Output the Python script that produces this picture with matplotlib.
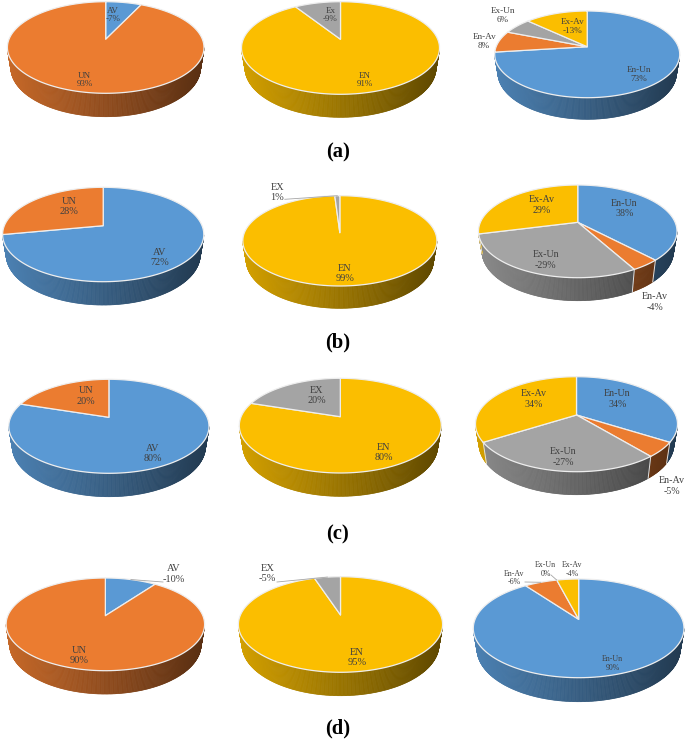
import numpy as np
import matplotlib
matplotlib.use("Agg")
import matplotlib.pyplot as plt
from matplotlib.collections import PolyCollection

BLUE = "#5A99D4"
ORANGE = "#EB7C30"
GRAY = "#A4A4A4"
YELLOW = "#FBBE00"

# values, read clockwise from 12 o'clock
a1_values = [7, 93]
a1_labels = ["AV\n-7%", "UN\n93%"]
a2_values = [91, 9]
a2_labels = ["EN\n91%", "Ex\n-9%"]
a3_values = [73, 8, 6, 13]
a3_labels = ["En-Un\n73%", "En-Av\n8%", "Ex-Un\n6%", "Ex-Av\n-13%"]

b1_values = [72, 28]
b1_labels = ["AV\n72%", "UN\n28%"]
b2_values = [99, 1]
b2_labels = ["EN\n99%", "EX\n1%"]
b3_values = [38, 4, 29, 29]
b3_labels = ["En-Un\n38%", "En-Av\n-4%", "Ex-Un\n-29%", "Ex-Av\n29%"]

c1_values = [80, 20]
c1_labels = ["AV\n80%", "UN\n20%"]
c2_values = [80, 20]
c2_labels = ["EN\n80%", "EX\n20%"]
c3_values = [34, 5, 27, 34]
c3_labels = ["En-Un\n34%", "En-Av\n-5%", "Ex-Un\n-27%", "Ex-Av\n34%"]

d1_values = [10, 90]
d1_labels = ["AV\n-10%", "UN\n90%"]
d2_values = [95, 5]
d2_labels = ["EN\n95%", "EX\n-5%"]
d3_values = [90, 6, 0, 4]
d3_labels = ["En-Un\n90%", "En-Av\n-6%", "Ex-Un\n0%", "Ex-Av\n-4%"]

panel_names = ["(a)", "(b)", "(c)", "(d)"]
panel_pos = [(338, 152), (338, 342), (338, 534), (338, 728)]


def make_pie(values, labels, colors, box, label_pos, size, leaders=()):
    return dict(values=values, labels=labels, colors=colors, box=box,
                label_pos=label_pos, size=size, leaders=leaders)


# box = left, right, top, bottom of the top face, centre y, bottom of the wall (pixels)
pies = [
    make_pie(a1_values, a1_labels, [BLUE, ORANGE], (7.4, 204, 1.7, 93.3, 39.3, 116.7),
             [(113, 15), (84.6, 80)], 6.5),
    make_pie(a2_values, a2_labels, [YELLOW, GRAY], (241.5, 439.5, 1.7, 94.3, 39.3, 117.3),
             [(364.6, 80), (330.4, 15)], 6.5),
    make_pie(a3_values, a3_labels, [BLUE, ORANGE, GRAY, YELLOW], (494.7, 679.7, 11, 97.7, 46.7, 119.3),
             [(639.3, 74.3), (484.2, 41.7), (502.6, 15.7), (572.7, 26.7)], 6.6),
    make_pie(b1_values, b1_labels, [BLUE, ORANGE], (2.6, 203.8, 187.3, 281.7, 225.7, 305),
             [(160, 257.3), (69.2, 206.7)], 7.4),
    make_pie(b2_values, b2_labels, [YELLOW, GRAY], (242.8, 436.9, 195.7, 286, 232.7, 308.3),
             [(344.9, 273.3), (277.4, 192.3)], 7.4, leaders=[(1, 284.8, 199.3)]),
    make_pie(b3_values, b3_labels, [BLUE, ORANGE, GRAY, YELLOW], (478.5, 677, 185, 277.7, 222.3, 300.7),
             [(624.5, 208.7), (655, 302), (545.6, 260), (542, 205)], 7.2),
    make_pie(c1_values, c1_labels, [BLUE, ORANGE], (8.8, 209, 379.3, 473.3, 417.3, 496.7),
             [(152.5, 453.3), (85.9, 396)], 7.3),
    make_pie(c2_values, c2_labels, [YELLOW, GRAY], (239.3, 441.3, 378.3, 473, 416.7, 496.3),
             [(383.9, 452.7), (316.4, 395.3)], 7.3),
    make_pie(c3_values, c3_labels, [BLUE, ORANGE, GRAY, YELLOW], (475.5, 677.5, 376.7, 471.7, 415, 494.7),
             [(617.4, 399), (672, 486), (563, 457), (533.7, 399)], 7.2),
    make_pie(d1_values, d1_labels, [BLUE, ORANGE], (6.1, 204.6, 578, 670.7, 615.7, 694),
             [(173.5, 574), (78.9, 655.3)], 7.5, leaders=[(0, 163, 582)]),
    make_pie(d2_values, d2_labels, [YELLOW, GRAY], (238.4, 442.6, 576.7, 672.3, 615, 695.7),
             [(356.7, 657.7), (267.7, 573.3)], 7.5, leaders=[(1, 277, 582)]),
    make_pie(d3_values, d3_labels, [BLUE, ORANGE, GRAY, YELLOW], (473.3, 684, 579, 677.7, 619.3, 701.7),
             [(612.6, 663.3), (514.5, 578), (545.6, 569.3), (572.3, 569.3)], 5.7,
             leaders=[(1, 525, 582), (2, 551, 575)]),
]


def shade(color, t):
    # side of the pie goes from light on the left to dark on the right
    rgb = np.array(matplotlib.colors.to_rgb(color))
    return tuple(rgb * (0.84 - 0.46 * t))


def draw_pie(ax, pie):
    left, right, top, bottom, ay, wall = pie["box"]
    cx = (left + right) / 2
    up = ay - top
    dn = bottom - ay
    k = (dn - up) / (dn + up)
    B = up * (1 + k)
    A = (right - left) / 2 * np.sqrt(1 - k * k)
    # lower edge of the wall is a little narrower, seen from above
    sx = 0.965
    sy = 1.07
    ay2 = wall - sy * dn

    def rim(theta):
        # perspective view of a circle, theta clockwise from the top
        u = np.sin(theta)
        v = np.cos(theta)
        w = 1 + k * v
        return cx + A * u / w, ay - B * v / w

    def low(x, y):
        return cx + (x - cx) * sx, ay2 + (y - ay) * sy

    vals = np.array(pie["values"], dtype=float)
    edges = np.concatenate([[0], np.cumsum(vals)]) / vals.sum() * 2 * np.pi

    # wall first, only the part in front of the widest points of the rim
    polys = []
    cols = []
    for i, col in enumerate(pie["colors"]):
        n = max(int((edges[i + 1] - edges[i]) * 90), 2)
        th = np.linspace(edges[i], edges[i + 1], n + 1)
        x, y = rim(th)
        x2, y2 = low(x, y)
        for j in range(n):
            if np.cos(th[j]) > -k or np.cos(th[j + 1]) > -k:
                continue
            polys.append([(x[j], y[j]), (x[j + 1], y[j + 1]),
                          (x2[j + 1], y2[j + 1]), (x2[j], y2[j])])
            cols.append(shade(col, ((x[j] + x[j + 1]) / 2 - left) / (right - left)))
    ax.add_collection(PolyCollection(polys, facecolors=cols, edgecolors=cols, linewidths=0.5, zorder=1))

    # lines between the slices on the wall
    if len(vals) > 2:
        for e in edges[:-1]:
            x, y = rim(e)
            if np.cos(e) < -k:
                x2, y2 = low(x, y)
                ax.plot([x, x2], [y, y2], color="#e0e0e0", lw=0.7, zorder=2)

    # top face
    for i, col in enumerate(pie["colors"]):
        if vals[i] == 0:
            continue
        th = np.linspace(edges[i], edges[i + 1], 200)
        x, y = rim(th)
        ax.fill(np.r_[cx, x], np.r_[ay, y], facecolor=col, edgecolor="#eeeeee",
                lw=0.9, joinstyle="round", zorder=3)

    for i, (txt, pos) in enumerate(zip(pie["labels"], pie["label_pos"])):
        ax.text(pos[0], pos[1], txt, ha="center", va="center", fontsize=pie["size"],
                family="Liberation Serif", color="#404040", linespacing=1.15, zorder=5)

    for i, lx, ly in pie["leaders"]:
        x, y = rim((edges[i] + edges[i + 1]) / 2)
        ax.plot([lx, x], [ly, y], color="#a6a6a6", lw=0.6, zorder=4)


fig = plt.figure(figsize=(6.85, 7.42), dpi=100)
ax = fig.add_axes([0, 0, 1, 1])
ax.set_xlim(0, 685)
ax.set_ylim(742, 0)
ax.axis("off")

for pie in pies:
    draw_pie(ax, pie)

for name, pos in zip(panel_names, panel_pos):
    ax.text(pos[0], pos[1], name, ha="center", va="center", fontsize=14.8,
            family="Liberation Serif", weight="bold", color="black")

fig.savefig("out.png", dpi=100)
